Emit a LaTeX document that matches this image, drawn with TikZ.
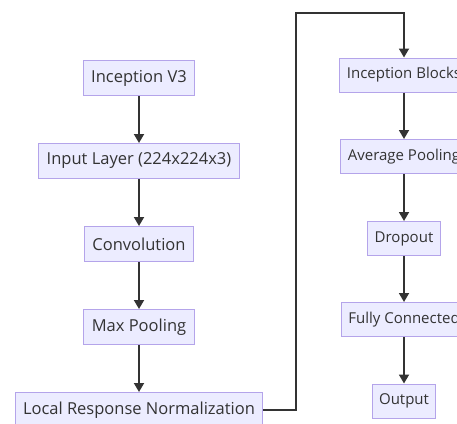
\documentclass[tikz,border=0pt]{standalone}
\usepackage{fontspec}
\setmainfont{Open Sans}
\usetikzlibrary{arrows.meta}
\definecolor{boxfill}{HTML}{ECECFF}
\definecolor{boxline}{HTML}{B4A4EA}
\definecolor{ink}{HTML}{333333}

\begin{document}
\begin{tikzpicture}[x=1pt, y=-1pt, >={Triangle[width=10pt,length=9pt]},
  every node/.style={font=\fontsize{16.5}{19}\selectfont, text=ink},
  layer/.style={draw=boxline, fill=boxfill, line width=1pt, minimum height=35pt, inner xsep=8pt},
  small/.style={font=\fontsize{15}{18}\selectfont, minimum height=34pt, inner xsep=7pt},
  flow/.style={->, draw=ink, line width=1.8pt}]
\useasboundingbox (0,0) rectangle (457,423);
% left column
\node[layer] (v3) at (139,78) {Inception V3};
\node[layer] (input) at (139,161) {Input Layer (224x224x3)};
\node[layer] (conv) at (139,244) {Convolution};
\node[layer] (maxpool) at (139,327) {Max Pooling};
\node[layer] (lrn) at (139,410) {Local Response Normalization};
% right column
\node[layer, small] (blocks) at (404,75) {Inception Blocks};
\node[layer, small] (avgpool) at (404,156.5) {Average Pooling};
\node[layer, small] (drop) at (404,238.5) {Dropout};
\node[layer, small] (fc) at (404,319.5) {Fully Connected};
\node[layer, small] (out) at (404,401) {Output};
\coordinate (bend) at (296,13);
\draw[flow] (v3) -- (input);
\draw[flow] (input) -- (conv);
\draw[flow] (conv) -- (maxpool);
\draw[flow] (maxpool) -- (lrn);
\draw[flow] (lrn.east) -| (bend) -| (blocks.north);
\draw[flow] (blocks) -- (avgpool);
\draw[flow] (avgpool) -- (drop);
\draw[flow] (drop) -- (fc);
\draw[flow] (fc) -- (out);
\end{tikzpicture}
\end{document}
